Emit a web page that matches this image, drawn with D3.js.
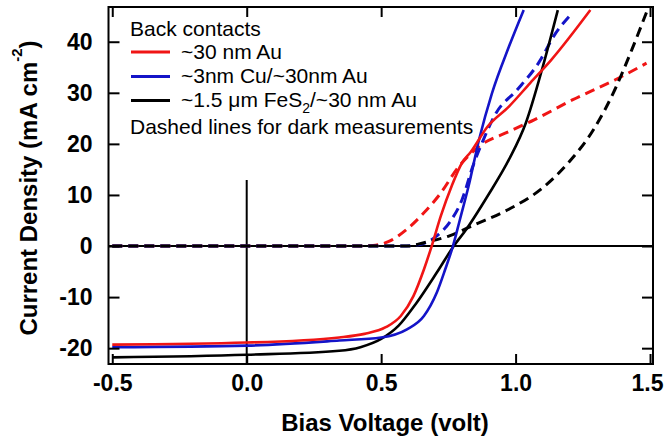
<!DOCTYPE html>
<html>
<head>
<meta charset="utf-8">
<script src="https://cdn.jsdelivr.net/npm/d3@7"></script>
<style>
    body { margin: 0; background: #fff; }
    svg { display: block; }
    text { font-family: "Liberation Sans", Arial, Helvetica, sans-serif; fill: #000; }
</style>
</head>
<body>
<div id="chart"></div>
<script>
// J-V data: [bias (V), current density (mA cm^-2)]
const auLight = [[-0.5, -19.3], [0, -18.9], [0.344, -17.9], [0.438, -17.2], [0.517, -15.9], [0.573, -13.7],
    [0.62, -9.8], [0.659, -4.6], [0.688, 0], [0.722, 5.9], [0.762, 11.7], [0.801, 16.3], [0.833, 18.4],
    [0.896, 23.4], [0.975, 27.3], [1.054, 31.9], [1.132, 36.4], [1.278, 46.2]];
const cuLight = [[-0.5, -19.8], [0, -19.5], [0.344, -18.5], [0.5, -17.9], [0.596, -16.3], [0.659, -13.7],
    [0.707, -9.1], [0.738, -4.6], [0.767, 0], [0.793, 5.2], [0.825, 11.7], [0.864, 20.8], [0.912, 29.9],
    [0.975, 39], [1.03, 46.2]];
const fes2Light = [[-0.5, -21.8], [0, -21.3], [0.344, -20.5], [0.423, -19.8], [0.5, -18.2], [0.565, -15.6],
    [0.628, -11.4], [0.707, -5.2], [0.77, 0], [0.817, 3.3], [0.896, 9.8], [0.975, 16.9], [1.038, 24.1],
    [1.101, 35.1], [1.157, 46.2]];
const auDark = [[-0.5, 0], [0.42, 0], [0.47, 0.1], [0.533, 1], [0.596, 3.3], [0.659, 6.5], [0.722, 10.4],
    [0.785, 15.3], [0.864, 19.5], [0.975, 22.4], [1.069, 24.7], [1.211, 28.6], [1.369, 32.5], [1.487, 35.8]];
const cuDark = [[-0.5, 0], [0.58, 0], [0.644, 0.3], [0.707, 2], [0.754, 4.6], [0.801, 9.1], [0.841, 15.6],
    [0.88, 20.8], [0.927, 26], [1.006, 30.6], [1.085, 35.8], [1.148, 41.6], [1.2, 45]];
const fes2Dark = [[-0.5, 0], [0.6, 0], [0.659, 0.65], [0.754, 2], [0.849, 4.2], [0.975, 7.2], [1.101, 11.4],
    [1.196, 16.3], [1.29, 22.8], [1.369, 30.6], [1.432, 38.4], [1.49, 46.2]];

const xTicks = [-0.5, 0.0, 0.5, 1.0, 1.5];
const yTicks = [-20, -10, 0, 10, 20, 30, 40];
const legendTitle = 'Back contacts';
const legendNote = 'Dashed lines for dark measurements';

const RED = '#f01515';
const BLUE = '#1414c8';
const BLACK = '#000';

const series = [
    { data: auDark, color: RED, dashed: true },
    { data: cuDark, color: BLUE, dashed: true },
    { data: fes2Dark, color: BLACK, dashed: true },
    { data: fes2Light, color: BLACK, dashed: false },
    { data: cuLight, color: BLUE, dashed: false },
    { data: auLight, color: RED, dashed: false }
];

const W = 665, H = 440;
const margin = { top: 7, right: 12, bottom: 76, left: 108.5 };
const width = W - margin.left - margin.right;
const height = H - margin.top - margin.bottom;
const FONT = '"Liberation Sans", Arial, Helvetica, sans-serif';

const svg = d3.select('#chart').append('svg')
    .attr('width', W)
    .attr('height', H);

const g = svg.append('g')
    .attr('transform', `translate(${margin.left},${margin.top})`);

const x = d3.scaleLinear().domain([-0.514, 1.511]).range([0, width]);
const y = d3.scaleLinear().domain([-23.1, 46.8]).range([height, 0]);

g.append('clipPath').attr('id', 'plot-clip')
    .append('rect').attr('width', width).attr('height', height);

// zero lines
g.append('line')
    .attr('x1', 0).attr('x2', width)
    .attr('y1', y(0)).attr('y2', y(0))
    .attr('stroke', '#000').attr('stroke-width', 2);
g.append('line')
    .attr('x1', x(0)).attr('x2', x(0))
    .attr('y1', y(-23.1)).attr('y2', y(20))
    .attr('stroke', '#000').attr('stroke-width', 2);

// legend background: white, hides the upper part of the V=0 line
const legend = g.append('g').attr('transform', `translate(${-margin.left},${-margin.top})`);
legend.append('rect')
    .attr('x', 124).attr('y', 12)
    .attr('width', 354).attr('height', 168)
    .attr('fill', '#fff');

// curves
const line = d3.line()
    .x(d => x(d[0]))
    .y(d => y(d[1]))
    .curve(d3.curveMonotoneX);

g.append('g').attr('clip-path', 'url(#plot-clip)')
    .selectAll('path')
    .data(series)
    .enter()
    .append('path')
    .attr('d', d => line(d.data))
    .attr('fill', 'none')
    .attr('stroke', d => d.color)
    .attr('stroke-width', d => d.dashed ? 3 : 2.6)
    .attr('stroke-dasharray', d => d.dashed ? '10,6' : null);

// legend entries
legend.append('text')
    .attr('x', 130).attr('y', 36)
    .attr('font-size', 21)
    .text(legendTitle);

const items = [
    { color: RED, y: 52, base: 59, label: ['~30 nm Au'] },
    { color: BLUE, y: 76.5, base: 83, label: ['~3nm Cu/~30nm Au'] },
    { color: BLACK, y: 100.5, base: 107, label: ['~1.5 \u03bcm FeS', '2', '/~30 nm Au'] }
];
items.forEach(it => {
    legend.append('line')
        .attr('x1', 131).attr('x2', 170)
        .attr('y1', it.y).attr('y2', it.y)
        .attr('stroke', it.color).attr('stroke-width', 3);
    const t = legend.append('text')
        .attr('x', 181).attr('y', it.base)
        .attr('font-size', 21);
    t.append('tspan').text(it.label[0]);
    if (it.label.length > 1) {
        t.append('tspan').attr('dy', 6).attr('font-size', 14).text(it.label[1]);
        t.append('tspan').attr('dy', -6).text(it.label[2]);
    }
});

legend.append('text')
    .attr('x', 130).attr('y', 134)
    .attr('font-size', 21)
    .text(legendNote);

// axes, ticks pointing inward on all four sides
const fmtX = d => d.toFixed(1);
const fmtY = d => String(d);

const styleAxis = sel => {
    sel.select('.domain').remove();
    sel.selectAll('.tick line').attr('stroke', '#000').attr('stroke-width', 2);
    sel.selectAll('.tick text')
        .attr('font-size', 23)
        .attr('font-weight', 'bold')
        .attr('font-family', FONT);
};

const xAxisG = g.append('g')
    .attr('transform', `translate(0,${height})`)
    .call(d3.axisBottom(x).tickValues(xTicks).tickSizeInner(-10).tickSizeOuter(0).tickPadding(11).tickFormat(fmtX))
    .call(styleAxis);
// last label sits right at the page edge, nudge it in
xAxisG.selectAll('.tick text').filter(d => d === 1.5).attr('dx', -3);

g.append('g')
    .call(d3.axisTop(x).tickValues(xTicks).tickSizeInner(-10).tickSizeOuter(0).tickFormat(''))
    .call(styleAxis);
g.append('g')
    .call(d3.axisLeft(y).tickValues(yTicks).tickSizeInner(-11).tickSizeOuter(0).tickPadding(16).tickFormat(fmtY))
    .call(styleAxis);
g.append('g')
    .attr('transform', `translate(${width},0)`)
    .call(d3.axisRight(y).tickValues(yTicks).tickSizeInner(-11).tickSizeOuter(0).tickFormat(''))
    .call(styleAxis);

// frame
g.append('rect')
    .attr('width', width).attr('height', height)
    .attr('fill', 'none')
    .attr('stroke', '#000').attr('stroke-width', 2);

// axis titles
svg.append('text')
    .attr('x', 385)
    .attr('y', 431)
    .attr('text-anchor', 'middle')
    .attr('font-size', 24)
    .attr('font-weight', 'bold')
    .text('Bias Voltage (volt)');

const yTitle = svg.append('text')
    .attr('transform', 'translate(37,188) rotate(-90)')
    .attr('text-anchor', 'middle')
    .attr('font-size', 24)
    .attr('font-weight', 'bold');
yTitle.append('tspan').text('Current Density (mA cm');
yTitle.append('tspan').attr('dy', -15).attr('font-size', 15).text('-2');
yTitle.append('tspan').attr('dy', 15).text(')');
</script>
</body>
</html>
